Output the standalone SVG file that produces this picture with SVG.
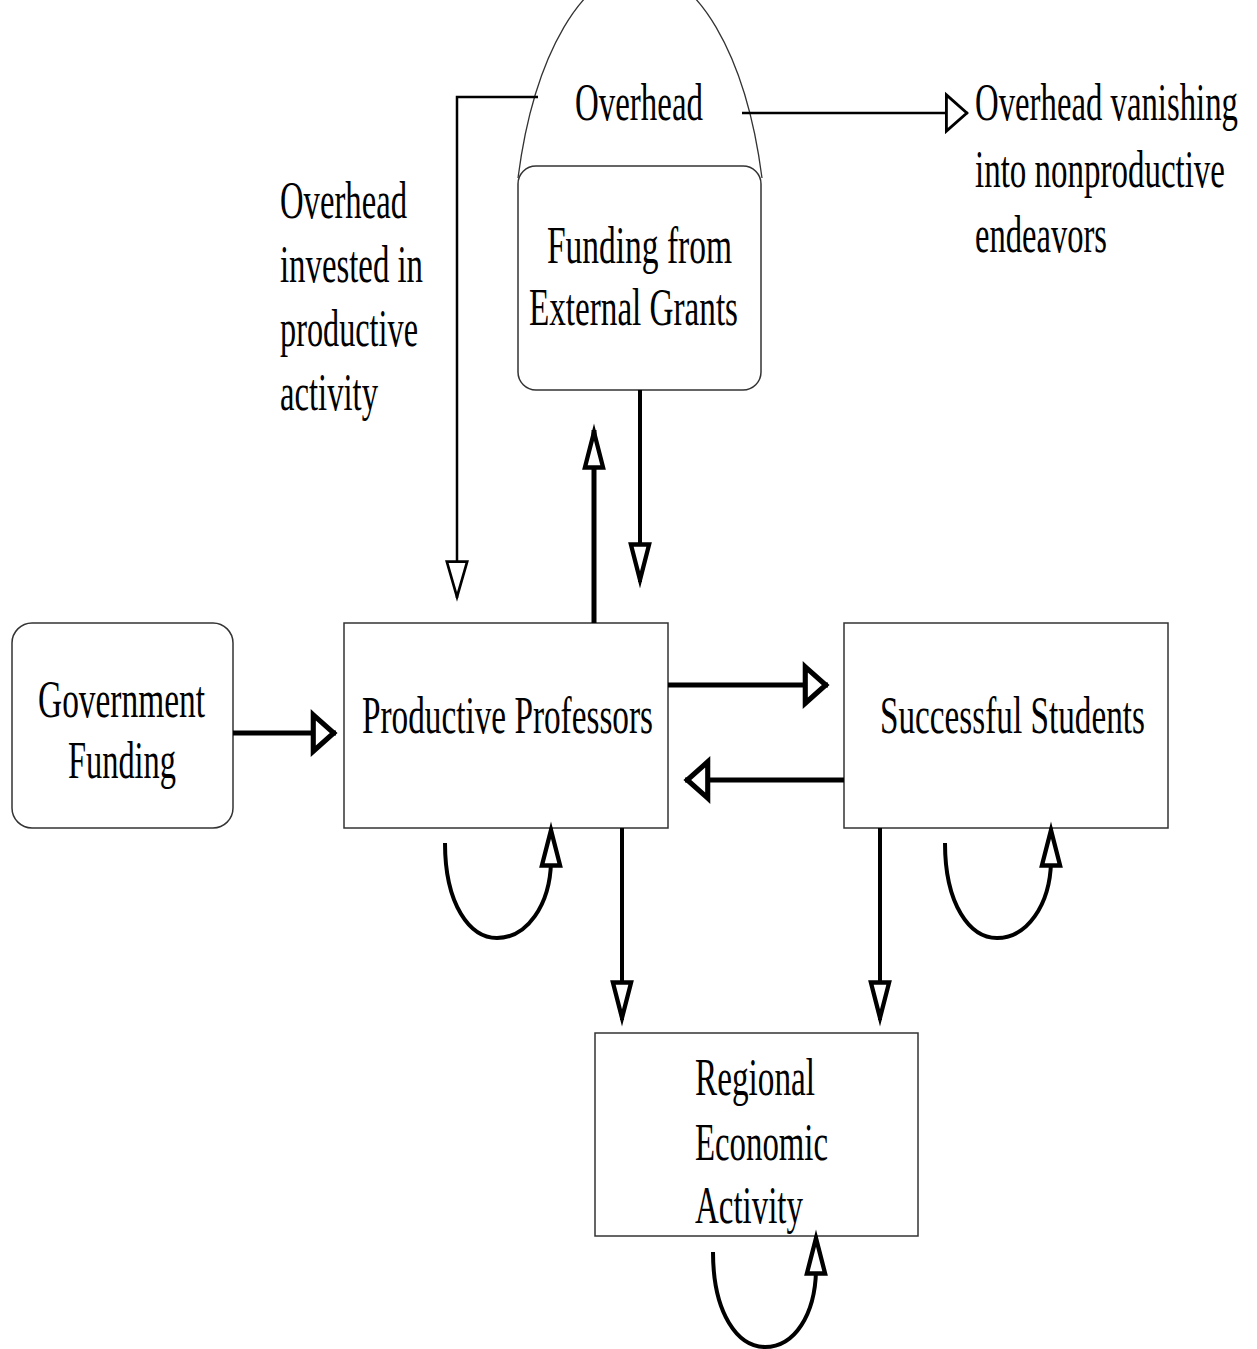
<svg xmlns="http://www.w3.org/2000/svg" width="1257" height="1349" viewBox="0 0 1257 1349">
<defs>
<style>
text{font-family:"Liberation Serif","Times New Roman",serif;font-size:53px;fill:#000}
.box{fill:#fff;stroke:#333;stroke-width:1.5}
.thick{fill:none;stroke:#000;stroke-width:5}
.mid{fill:none;stroke:#000;stroke-width:4}
.thin{fill:none;stroke:#000;stroke-width:2.5}
.head{fill:#fff;stroke:#000;stroke-linejoin:miter;stroke-miterlimit:10}
</style>
<marker id="hH" markerUnits="userSpaceOnUse" orient="auto" markerWidth="40" markerHeight="50" refX="20" refY="0" viewBox="-4 -22 30 44" overflow="visible">
<path class="head" stroke-width="4.5" d="M0,-16 L18,0 L0,16 Z"/>
</marker>
<marker id="hHt" markerUnits="userSpaceOnUse" orient="auto" markerWidth="40" markerHeight="50" refX="19" refY="0" viewBox="-4 -22 30 44" overflow="visible">
<path class="head" stroke-width="2.5" d="M0,-16 L18,0 L0,16 Z"/>
</marker>
<marker id="hV" markerUnits="userSpaceOnUse" orient="auto" markerWidth="50" markerHeight="30" refX="35" refY="0" viewBox="-4 -14 44 28" overflow="visible">
<path class="head" stroke-width="4" d="M0,-8.5 L33,0 L0,8.5 Z"/>
</marker>
<marker id="hVt" markerUnits="userSpaceOnUse" orient="auto" markerWidth="50" markerHeight="30" refX="34" refY="0" viewBox="-4 -14 44 28" overflow="visible">
<path class="head" stroke-width="2.5" d="M0,-9.5 L33,0 L0,9.5 Z"/>
</marker>
</defs>
<rect width="1257" height="1349" fill="#fff"/>

<g id="overhead">
<path d="M518,178 A127.2,290.7 0 0,1 762,178" fill="none" stroke="#333" stroke-width="1.3"/>
<text x="575" y="120" textLength="128" lengthAdjust="spacingAndGlyphs">Overhead</text>
</g>

<g id="external-grants">
<rect class="box" x="518" y="166" width="243" height="224" rx="18" ry="18"/>
<text x="547" y="263" textLength="185" lengthAdjust="spacingAndGlyphs">Funding from</text>
<text x="529" y="325" textLength="209" lengthAdjust="spacingAndGlyphs">External Grants</text>
</g>

<g id="label-invested">
<text x="280" y="218" textLength="127" lengthAdjust="spacingAndGlyphs">Overhead</text>
<text x="280" y="282" textLength="143" lengthAdjust="spacingAndGlyphs">invested in</text>
<text x="280" y="346" textLength="138" lengthAdjust="spacingAndGlyphs">productive</text>
<text x="280" y="410" textLength="98" lengthAdjust="spacingAndGlyphs">activity</text>
</g>

<g id="label-vanishing">
<text x="975" y="120" textLength="263" lengthAdjust="spacingAndGlyphs">Overhead vanishing</text>
<text x="975" y="187" textLength="250" lengthAdjust="spacingAndGlyphs">into nonproductive</text>
<text x="975" y="252" textLength="132" lengthAdjust="spacingAndGlyphs">endeavors</text>
</g>

<g id="government-funding">
<rect class="box" x="12" y="623" width="221" height="205" rx="20" ry="20"/>
<text x="38" y="717" textLength="167" lengthAdjust="spacingAndGlyphs">Government</text>
<text x="68" y="778" textLength="108" lengthAdjust="spacingAndGlyphs">Funding</text>
</g>

<g id="productive-professors">
<rect class="box" x="344" y="623" width="324" height="205"/>
<text x="362" y="733" textLength="291" lengthAdjust="spacingAndGlyphs">Productive Professors</text>
</g>

<g id="successful-students">
<rect class="box" x="844" y="623" width="324" height="205"/>
<text x="880" y="733" textLength="265" lengthAdjust="spacingAndGlyphs">Successful Students</text>
</g>

<g id="regional-economic-activity">
<rect class="box" x="595" y="1033" width="323" height="203"/>
<text x="695" y="1095" textLength="120" lengthAdjust="spacingAndGlyphs">Regional</text>
<text x="695" y="1160" textLength="133" lengthAdjust="spacingAndGlyphs">Economic</text>
<text x="695" y="1223" textLength="108" lengthAdjust="spacingAndGlyphs">Activity</text>
</g>

<g id="connectors">
<path class="thin" d="M538,97 H457 V598" marker-end="url(#hVt)"/>
<path class="thin" d="M742,113 H968" marker-end="url(#hHt)"/>
<path class="thick" d="M594,623 V430" marker-end="url(#hV)"/>
<path class="mid" d="M640,390 V582" marker-end="url(#hV)"/>
<path class="thick" d="M233,733 H336" marker-end="url(#hH)"/>
<path class="thick" d="M668,685 H828" marker-end="url(#hH)"/>
<path class="thick" d="M844,780 H685" marker-end="url(#hH)"/>
<path class="mid" d="M622,828 V1020" marker-end="url(#hV)"/>
<path class="mid" d="M880,828 V1020" marker-end="url(#hV)"/>
<path class="mid" d="M445,843 C445,905 470,938 497,938 C527,938 550,905 551,862 L551,828" marker-end="url(#hV)"/>
<path class="mid" d="M945,843 C945,905 970,938 997,938 C1027,938 1050,905 1051,862 L1051,828" marker-end="url(#hV)"/>
<path class="mid" d="M713,1252 C713,1314 738,1347 765,1347 C795,1347 815,1314 816,1271 L816,1236" marker-end="url(#hV)"/>
</g>
</svg>
